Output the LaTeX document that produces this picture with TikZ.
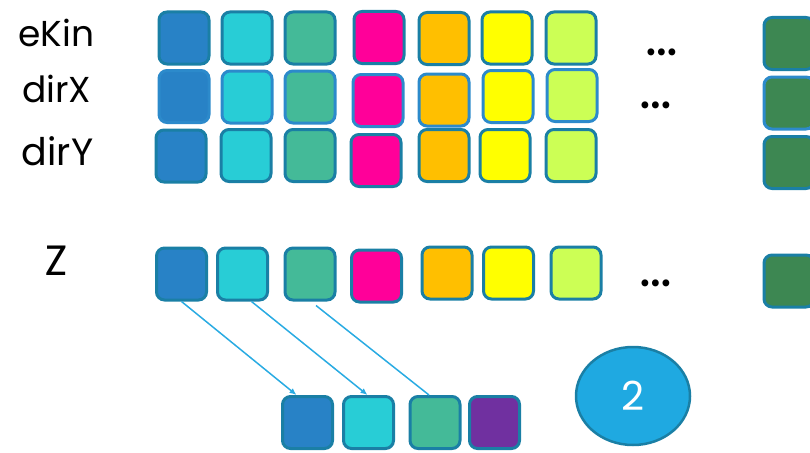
\documentclass[tikz,border=0pt]{standalone}
\usepackage{fontspec}
\setmainfont{Poppins}
\newfontfamily\zfont{Carlito}
\usetikzlibrary{arrows.meta,shapes.geometric}

\definecolor{cBlue}{HTML}{2882C6}
\definecolor{cCyan}{HTML}{28CDD6}
\definecolor{cTeal}{HTML}{44BA98}
\definecolor{cPink}{HTML}{FF0099}
\definecolor{cOrange}{HTML}{FFBF00}
\definecolor{cYellow}{HTML}{FFFF00}
\definecolor{cLime}{HTML}{CCFF55}
\definecolor{cGreen}{HTML}{3D8752}
\definecolor{cPurple}{HTML}{7030A0}
\definecolor{cEdge}{HTML}{1A7FA5}
\definecolor{cEdgeL}{HTML}{2C8ACB}
\definecolor{cLink}{HTML}{29ABE2}
\definecolor{cBubble}{HTML}{1FA9E1}

\begin{document}
\begin{tikzpicture}[x=1pt, y=-1pt, >={Latex[length=7pt,width=6pt]},
  cell/.style={draw=cEdge, line width=3pt, rounded corners=8pt, minimum width=50pt, minimum height=52pt, inner sep=0pt},
  lbl/.style={font=\fontsize{36}{40}\selectfont, anchor=base, inner sep=0pt},
  dots/.style={font=\fontsize{56}{60}\selectfont, inner sep=0pt, anchor=base},
  link/.style={draw=cLink, line width=1.5pt}]
\useasboundingbox (0,0) rectangle (810,452);
% row labels
\node[lbl] (lekin) at (56.5,46) {eKin};
\node[lbl] (ldirx) at (56.5,102) {dirX};
\node[lbl, font=\fontsize{38}{42}\selectfont] (ldiry) at (57.5,165) {dirY};
\node[lbl, font=\zfont\fontsize{46}{50}\selectfont] (lz) at (56,275) {Z};
% eKin row
\foreach \n/\c/\x/\y in {1/cBlue/184/38, 2/cCyan/247/38, 3/cTeal/310/38, 4/cPink/379/37.5, 5/cOrange/444/38.5, 6/cYellow/507/38, 7/cLime/571/38, N/cGreen/789/43.5}
  \node[cell, fill=\c] (e\n) at (\x,\y) {};
% dirX row
\foreach \n/\c/\x/\y in {1/cBlue/184/96.5, 2/cCyan/247/97, 3/cTeal/310/97, 4/cPink/378/100.5, 5/cOrange/444/100, 6/cYellow/508/96.5, 7/cLime/572/95.5, N/cGreen/789/103}
  \node[cell, draw=cEdgeL, fill=\c] (x\n) at (\x,\y) {};
% dirY row
\foreach \n/\c/\x/\y in {1/cBlue/181/156, 2/cCyan/246/155.5, 3/cTeal/310/155.5, 4/cPink/376/160.5, 5/cOrange/444/155.5, 6/cYellow/505/155.5, 7/cLime/571/155.5, N/cGreen/789/162.5}
  \node[cell, fill=\c] (y\n) at (\x,\y) {};
% Z row
\foreach \n/\c/\x/\y in {1/cBlue/181.5/274, 2/cCyan/242.5/274, 3/cTeal/310/274, 4/cPink/376.5/276, 5/cOrange/447/273, 6/cYellow/508.5/273, 7/cLime/576/273, N/cGreen/789/281}
  \node[cell, fill=\c] (z\n) at (\x,\y) {};
\node[dots] (edots) at (662,56) {…};
\node[dots] (xdots) at (656,108) {…};
\node[dots] (zdots) at (656,286) {…};
% picked entries
\node[cell, fill=cBlue] (b1) at (307.5,422.5) {};
\node[cell, fill=cCyan] (b2) at (368.5,422.5) {};
\node[cell, fill=cTeal] (b3) at (435,422.5) {};
\node[cell, fill=cPurple] (b4) at (494.5,422.5) {};
\node[ellipse, draw=cEdge, line width=2.5pt, fill=cBubble, minimum width=114pt, minimum height=98pt, text=white, font=\fontsize{40}{44}\selectfont] (two) at (633,396) {2};
\draw[link, ->] (z1.south) -- ([xshift=-11pt]b1.north);
\draw[link, ->] ([xshift=9pt]z2.south) -- ([xshift=-1pt]b2.north);
\draw[link] ([xshift=6pt,yshift=-4pt]z3.south) -- ([xshift=-6pt]b3.north);
\end{tikzpicture}
\end{document}
